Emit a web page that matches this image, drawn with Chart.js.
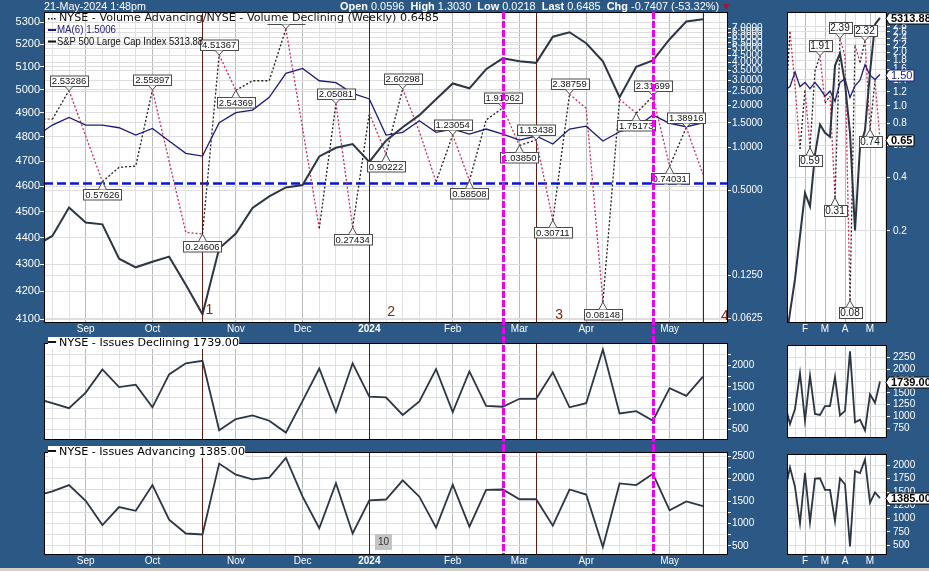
<!DOCTYPE html>
<html>
<head>
<meta charset="utf-8">
<title>NYSE Volume Advancing / Declining (Weekly)</title>
<script src="https://cdn.jsdelivr.net/npm/chart.js@4.4.1/dist/chart.umd.min.js"></script>
<style>
  html, body { margin: 0; padding: 0; }
  body { width: 929px; height: 571px; background: #2b5885; position: relative; overflow: hidden;
         font-family: "Liberation Sans", Arial, sans-serif; }
  canvas { position: absolute; }
  .hdr { position: absolute; top: 0; color: #fff; font-size: 11px; line-height: 13px; white-space: nowrap; transform-origin: 0 0; z-index: 5; }
  .tri { display: inline-block; width: 0; height: 0; border-left: 4px solid transparent; border-right: 4px solid transparent;
         border-top: 5px solid #a3163c; margin-left: 3px; vertical-align: 1px; }
  .leg { position: absolute; left: 48px; z-index: 5; color: #000; white-space: nowrap; background: #fff;
         font: 11px "DejaVu Sans", Verdana, sans-serif; line-height: 12px; height: 12px; transform-origin: 0 50%; }
  .leg i { display: inline-block; width: 8px; height: 2px; background: #111; vertical-align: 3px; margin-right: 3px; }
  #foot { position: absolute; left: 0; top: 568px; width: 929px; height: 3px; background: #d4d0c8; }
</style>
</head>
<body>
<canvas id="main" width="787" height="337" style="left:0;top:0"></canvas>
<canvas id="decl" width="787" height="110" style="left:0;top:336px"></canvas>
<canvas id="adv" width="787" height="126" style="left:0;top:445px"></canvas>
<canvas id="zmain" width="142" height="337" style="left:787px;top:0"></canvas>
<canvas id="zdecl" width="142" height="110" style="left:787px;top:336px"></canvas>
<canvas id="zadv" width="142" height="126" style="left:787px;top:445px"></canvas>
<div class="hdr" id="stamp">21-May-2024 1:48pm</div>
<div class="hdr" id="quote"><b>Open</b> 0.0596&nbsp; <b>High</b> 1.3030&nbsp; <b>Low</b> 0.0218&nbsp; <b>Last</b> 0.6485&nbsp; <b>Chg</b> -0.7407 (-53.32%)<span class="tri"></span></div>
<div class="leg" id="legDecl" style="top:337px"></div>
<div class="leg" id="legAdv" style="top:446px"></div>
<div id="foot"></div>
<script>
// weekly values, the first entry is the week just left of the visible window
const firstWeek = -1;
const spx = [4369.71, 4405.71, 4515.77, 4457.49, 4450.32, 4320.06, 4288.05, 4308.50, 4327.78, 4224.16,
             4117.37, 4358.34, 4415.24, 4514.02, 4559.34, 4594.63, 4604.37, 4719.19, 4754.63, 4769.83,
             4697.24, 4783.83, 4839.81, 4890.97, 4958.61, 5026.61, 5005.57, 5088.80, 5137.08, 5123.69,
             5117.09, 5234.18, 5254.35, 5204.34, 5123.41, 4967.23, 5099.96, 5127.79, 5222.68, 5303.27, 5313.88];
const ratio = [1.62, 1.587, 2.53286, 1.21, 0.57626, 0.727, 0.743, 2.55897, 0.80, 0.253,
               0.24606, 4.51367, 2.54369, 2.97, 2.97, 6.9, 1.37, 0.27, 2.05081, 0.27434,
               1.75, 0.90222, 2.60298, 1.3, 0.575, 1.23054, 0.58508, 1.57, 1.91062, 1.03850,
               1.13438, 0.30711, 2.38759, 1.9, 0.08148, 2.2, 1.75173, 2.31699, 0.74031, 1.38916, 0.6485];
const ma6 = [1.20, 1.446, 1.639, 1.446, 1.446, 1.384, 1.229, 1.37, 1.115, 0.913,
             0.874, 1.501, 1.767, 1.846, 2.27, 3.35, 3.63, 2.97, 2.88, 2.42,
             2.21, 1.229, 1.284, 1.55, 1.284, 1.355, 1.249, 1.355, 1.249, 1.133,
             1.21, 1.062, 1.355, 1.42, 1.115, 1.297, 1.393, 1.70, 1.487, 1.407, 1.5006];
const declining = [1230, 1118, 1000, 1365, 1909, 1496, 1551, 1021, 1791, 2054,
                   2110, 483, 746, 829, 705, 428, 1171, 1930, 911, 2054,
                   1269, 1254, 841, 1159, 1916, 911, 1861, 1055, 1034, 1220,
                   1220, 1840, 1021, 1118, 2378, 876, 931, 705, 1469, 1289, 1739];
const advancing = [1619, 1716, 1857, 1505, 966, 1366, 1282, 1857, 1084, 777,
                   756, 2335, 2088, 1983, 2025, 2461, 1598, 895, 1899, 777,
                   1514, 1535, 1962, 1598, 909, 1863, 931, 1752, 1758, 1541,
                   1541, 952, 1758, 1646, 474, 1893, 1857, 2109, 1295, 1493, 1385];

const monthWeeks = [2, 6, 11, 15, 19, 24, 28, 32, 37];
const monthLabels = ['Sep', 'Oct', 'Nov', 'Dec', '2024', 'Feb', 'Mar', 'Apr', 'May'];
const zoomMonthWeeks = [24, 28, 32, 37];
const zoomMonthLabels = ['F', 'M', 'A', 'M'];

const spxTicks = [4100, 4200, 4300, 4400, 4500, 4600, 4700, 4800, 4900, 5000, 5100, 5200, 5300];
const ratioTicks = [0.0625, 0.125, 0.5, 1, 1.5, 2, 2.5, 3, 3.5, 4, 4.5, 5, 5.5, 6, 6.5, 7];
const zoomRatioTicks = [0.2, 0.4, 0.6, 0.8, 1.0, 1.2, 1.4, 1.6, 1.8, 2.0, 2.2, 2.4, 2.6, 2.8];
const declTicks = [500, 750, 1000, 1250, 1500, 1750, 2000, 2250];
const advTicks = [500, 750, 1000, 1250, 1500, 1750, 2000, 2250, 2500];
const zoomDeclTicks = [750, 1000, 1250, 1500, 1750, 2000, 2250];
const zoomAdvTicks = [500, 750, 1000, 1250, 1500, 1750, 2000];

const labelWeeks = [1, 3, 6, 9, 10, 11, 14, 17, 18, 20, 21, 24, 25, 27, 28, 29, 30, 31, 33, 35, 36, 37, 38];
const hiddenLabelWeeks = [14];
const zoomLabelWeeks = [25, 27, 30, 31, 33, 36, 37];
const cycleWeeks = [9, 19, 29, 39];
const cycleNames = ['1', '2', '3', '4'];
const markerWeeks = [27, 36];
const refRatio = 0.566;

// styles
const SANS = '"Liberation Sans", Arial, sans-serif';
const VERD = '"DejaVu Sans", Verdana, sans-serif';
const SPX_COLOR = '#2c3542';
const MA_COLOR = '#1c1c78';
const RED = '#cf2d52';
const BROWN = '#62190f';
const MAGENTA = '#ee00ee';
const WEEK_GRID = '#e1e1e1';
const MONTH_GRID = '#b9b9b9';
const ROW_GRID = '#dedede';
const cycleText = { dx: [3, 18, 19, 18], y: [310, 312, 315, 316] };

Chart.defaults.font.family = SANS;

const pts = arr => arr.map((v, k) => ({ x: k + firstWeek, y: v }));
const at = (arr, w) => arr[w - firstWeek];
const last = arr => arr[arr.length - 1];

function line(ctx, x1, y1, x2, y2) {
  ctx.beginPath(); ctx.moveTo(x1, y1); ctx.lineTo(x2, y2); ctx.stroke();
}

function fitText(ctx, text, x, y, width, font, color) {
  ctx.save();
  ctx.font = font;
  const w = ctx.measureText(text).width;
  ctx.translate(x, y);
  if (width) ctx.scale(width / w, 1);
  ctx.fillStyle = color;
  ctx.textAlign = 'left';
  ctx.textBaseline = 'middle';
  ctx.fillText(text, 0, 0);
  ctx.restore();
}

function legendRow(ctx, y, mark, color, text, x, width, font) {
  ctx.save();
  ctx.fillStyle = color;
  if (mark === 'dots') {
    for (let k = 0; k < 3; k++) ctx.fillRect(48 + k * 3, y, 1.5, 1.5);
  } else {
    ctx.fillRect(48, y - 1, 8, 2);
  }
  ctx.restore();
  fitText(ctx, text, x, y + 0.5, width, font, color);
}

function weekAxis(o) {
  return {
    type: 'linear', position: 'bottom', min: o.min, max: o.max,
    afterBuildTicks: s => {
      const t = [];
      for (let v = Math.ceil(o.min); v <= o.max; v++) {
        if (v % o.every === 0 || o.at.includes(v)) t.push({ value: v });
      }
      s.ticks = t;
    },
    afterFit: s => { s.height = o.height; },
    border: { display: false },
    grid: { drawTicks: false, color: c => (c.tick && o.at.includes(c.tick.value)) ? MONTH_GRID : WEEK_GRID },
    ticks: {
      display: !!o.labels, autoSkip: false, maxRotation: 0, padding: 1, color: '#fff',
      font: c => ({ family: SANS, size: 10, weight: (c.tick && c.tick.label === '2024') ? 'bold' : 'normal' }),
      callback: v => { const k = o.at.indexOf(v); return (k < 0 || !o.labels) ? '' : o.labels[k]; }
    }
  };
}

function valueAxis(o) {
  return {
    type: o.log ? 'logarithmic' : 'linear', position: o.pos || 'right', display: o.display !== false,
    min: o.min, max: o.max,
    afterBuildTicks: s => { s.ticks = o.ticks.map(v => ({ value: v })); },
    afterFit: s => { s.width = o.width; },
    border: { display: false },
    grid: { color: ROW_GRID, tickLength: o.tick || 3, tickColor: '#ffffff' },
    ticks: { autoSkip: false, color: '#fff', padding: o.pad === undefined ? 1 : o.pad,
             font: { family: SANS, size: o.size || 10 }, callback: o.fmt }
  };
}

function callout(ctx, x, y, text, above, size) {
  ctx.font = size + 'px ' + SANS;
  const w = Math.round(ctx.measureText(text || '0.00000').width) + 4;
  const h = size + 1;
  const left = Math.round(x - w / 2) + 0.5;
  const top = (above ? Math.round(y) - 5 - h : Math.round(y) + 7) + 0.5;
  const edge = above ? top + h : top;
  ctx.lineWidth = 1;
  ctx.strokeStyle = '#4a4a4a';
  ctx.fillStyle = '#fff';
  if (text) { ctx.fillRect(left, top, w, h); ctx.strokeRect(left, top, w, h); }
  else line(ctx, left, edge, left + w, edge);
  ctx.beginPath(); ctx.moveTo(x - 4, edge); ctx.lineTo(x, y); ctx.lineTo(x + 4, edge); ctx.closePath(); ctx.fill();
  ctx.beginPath(); ctx.moveTo(x - 4, edge); ctx.lineTo(x, y); ctx.lineTo(x + 4, edge); ctx.stroke();
  if (text) {
    ctx.fillStyle = '#111'; ctx.textAlign = 'center'; ctx.textBaseline = 'middle';
    ctx.fillText(text, x, top + h / 2 + 0.5);
  }
}

function drawCallouts(chart, weeks, hidden, digits, size) {
  const { ctx, chartArea: a, scales } = chart;
  ctx.save();
  ctx.beginPath(); ctx.rect(a.left, a.top, a.width, a.height); ctx.clip();
  weeks.forEach(w => {
    const v = at(ratio, w);
    const above = v >= at(ratio, w - 1) && v >= at(ratio, w + 1 <= 39 ? w + 1 : w);
    const x = scales.x.getPixelForValue(w);
    const y = scales.ratio.getPixelForValue(v);
    callout(ctx, x, y, hidden.includes(w) ? null : v.toFixed(digits), above, size);
  });
  ctx.restore();
}

function tag(ctx, tipX, y, text, color, bold) {
  ctx.font = (bold ? 'bold ' : '') + '11px ' + SANS;
  const w = Math.ceil(ctx.measureText(text).width) + 3, h = 11;
  const x0 = tipX + 3;
  y = Math.round(y) + 0.5;
  ctx.beginPath();
  ctx.moveTo(tipX, y); ctx.lineTo(x0, y - h / 2); ctx.lineTo(x0 + w, y - h / 2);
  ctx.lineTo(x0 + w, y + h / 2); ctx.lineTo(x0, y + h / 2); ctx.closePath();
  ctx.fillStyle = '#fff'; ctx.fill();
  ctx.strokeStyle = color; ctx.lineWidth = 1; ctx.stroke();
  ctx.fillStyle = color; ctx.textAlign = 'left'; ctx.textBaseline = 'middle';
  ctx.fillText(text, x0 + 2, y + 0.5);
}

function drawCycles(chart, top, bottom) {
  const { ctx, scales } = chart;
  ctx.save();
  ctx.strokeStyle = BROWN; ctx.lineWidth = 1;
  cycleWeeks.forEach(w => {
    const x = Math.round(scales.x.getPixelForValue(w)) + 0.5;
    line(ctx, x, top, x, bottom);
  });
  ctx.restore();
}

function drawMarkers(chart, top, bottom) {
  const { ctx, scales } = chart;
  ctx.save();
  ctx.strokeStyle = MAGENTA; ctx.lineWidth = 3; ctx.setLineDash([7, 2]);
  markerWeeks.forEach(w => {
    const x = Math.round(scales.x.getPixelForValue(w)) + 0.5;
    line(ctx, x, top, x, bottom);
  });
  ctx.restore();
}

const panelBack = {
  id: 'panelBack',
  beforeDraw(chart) {
    const a = chart.chartArea;
    chart.ctx.fillStyle = '#fff';
    chart.ctx.fillRect(a.left, a.top, a.width, a.height);
  },
  afterDraw(chart) {
    const a = chart.chartArea, ctx = chart.ctx;
    ctx.save();
    ctx.strokeStyle = '#000'; ctx.lineWidth = 1; ctx.setLineDash([]);
    ctx.strokeRect(a.left + 0.5, a.top + 0.5, a.width - 1, a.height);
    ctx.restore();
  }
};

const baseOptions = (padding, scales) => ({
  responsive: false, animation: false, events: [],
  layout: { padding, autoPadding: false },
  elements: { point: { radius: 0 }, line: { tension: 0 } },
  plugins: { legend: { display: false }, tooltip: { enabled: false } },
  scales
});

const ratioSet = (axis) => ({
  data: pts(ratio), yAxisID: axis, borderColor: '#1e1e1e', borderWidth: 1.3, borderDash: [2, 2],
  segment: { borderColor: c => c.p1.parsed.y < c.p0.parsed.y ? RED : '#1e1e1e' }, clip: 0, order: 3
});

// ---- main weekly panel
new Chart(document.getElementById('main'), {
  type: 'line',
  data: { datasets: [
    { data: pts(spx), yAxisID: 'spx', borderColor: SPX_COLOR, borderWidth: 2, clip: 0, order: 1 },
    { data: pts(ma6), yAxisID: 'ratio', borderColor: MA_COLOR, borderWidth: 1.3, clip: 0, order: 2 },
    ratioSet('ratio')
  ]},
  options: baseOptions({ top: 12, left: 0, right: 0, bottom: 0 }, {
    x: weekAxis({ min: -0.5, max: 40.5, every: 1, at: monthWeeks, labels: monthLabels, height: 15 }),
    spx: valueAxis({ log: true, pos: 'left', min: 4090, max: 5347, ticks: spxTicks, width: 44, tick: 4, pad: 0, size: 11, fmt: v => String(v) }),
    ratio: valueAxis({ log: true, min: 0.0589, max: 9.08, ticks: ratioTicks, width: 59, fmt: v => v.toFixed(4) })
  }),
  plugins: [panelBack, {
    id: 'mainDecor',
    beforeDatasetsDraw(chart) {
      const { ctx, chartArea: a, scales } = chart;
      const y = Math.round(scales.ratio.getPixelForValue(refRatio)) + 0.5;
      ctx.save();
      ctx.strokeStyle = '#0a16d0'; ctx.lineWidth = 2.5; ctx.setLineDash([9, 4]);
      line(ctx, a.left, y, a.right, y);
      ctx.restore();
      drawCycles(chart, a.top, a.bottom);
    },
    afterDatasetsDraw(chart) {
      const { ctx, scales } = chart;
      drawCallouts(chart, labelWeeks, hiddenLabelWeeks, 5, 9.5);
      ctx.save();
      ctx.fillStyle = '#7b2817'; ctx.font = '14px ' + SANS; ctx.textAlign = 'left'; ctx.textBaseline = 'middle';
      cycleWeeks.forEach((w, k) => {
        ctx.fillText(cycleNames[k], scales.x.getPixelForValue(w) + cycleText.dx[k], cycleText.y[k]);
      });
      ctx.restore();
      legendRow(ctx, 18, 'dots', '#111', 'NYSE - Volume Advancing/NYSE - Volume Declining (Weekly) ' + last(ratio).toFixed(4), 59, 380, '11px ' + VERD);
      legendRow(ctx, 30, 'dash', MA_COLOR, 'MA(6) ' + last(ma6).toFixed(4), 57, 59, '10.5px ' + SANS);
      legendRow(ctx, 41.5, 'dash', '#111', 'S&P 500 Large Cap Index ' + last(spx).toFixed(2), 57, 146, '10.5px ' + SANS);
    },
    afterDraw(chart) { drawMarkers(chart, chart.chartArea.top, chart.height); }
  }]
});

// ---- issues declining
new Chart(document.getElementById('decl'), {
  type: 'line',
  data: { datasets: [{ data: pts(declining), yAxisID: 'y', borderColor: SPX_COLOR, borderWidth: 1.8, clip: 0 }] },
  options: baseOptions({ top: 0, left: 44, right: 0, bottom: 0 }, {
    x: weekAxis({ min: -0.5, max: 40.5, every: 1, at: monthWeeks, labels: null, height: 1 }),
    y: valueAxis({ min: 277, max: 2529, ticks: declTicks, width: 59, fmt: v => v % 500 === 0 ? String(v) : '' })
  }),
  plugins: [panelBack, {
    id: 'declDecor',
    beforeDatasetsDraw(chart) { drawCycles(chart, chart.chartArea.top, chart.chartArea.bottom); },
    afterDraw(chart) { drawMarkers(chart, 0, chart.height); }
  }]
});

// ---- issues advancing
new Chart(document.getElementById('adv'), {
  type: 'line',
  data: { datasets: [{ data: pts(advancing), yAxisID: 'y', borderColor: SPX_COLOR, borderWidth: 1.8, clip: 0 }] },
  options: baseOptions({ top: 1, left: 44, right: 0, bottom: 0 }, {
    x: weekAxis({ min: -0.5, max: 40.5, every: 1, at: monthWeeks, labels: monthLabels, height: 17 }),
    y: valueAxis({ min: 320, max: 2594, ticks: advTicks, width: 59, fmt: v => v % 500 === 0 ? String(v) : '' })
  }),
  plugins: [panelBack, {
    id: 'advDecor',
    beforeDatasetsDraw(chart) { drawCycles(chart, chart.chartArea.top, chart.chartArea.bottom); },
    afterDatasetsDraw(chart) {
      const { ctx, scales } = chart;
      const x = Math.round(scales.x.getPixelForValue(cycleWeeks[1])) + 6;
      ctx.fillStyle = '#c4c4c4'; ctx.fillRect(x, 89, 17, 16);
      ctx.fillStyle = '#333'; ctx.font = '10px ' + SANS; ctx.textAlign = 'center'; ctx.textBaseline = 'middle';
      ctx.fillText(String(cycleWeeks[1] - cycleWeeks[0]), x + 8.5, 97.5);
    },
    afterDraw(chart) { drawMarkers(chart, 0, chart.chartArea.bottom); }
  }]
});

// ---- zoomed panels on the right (last 20 weeks)
new Chart(document.getElementById('zmain'), {
  type: 'line',
  data: { datasets: [
    { data: pts(spx), yAxisID: 'spx', borderColor: SPX_COLOR, borderWidth: 2, clip: 0, order: 1 },
    { data: pts(ma6), yAxisID: 'ratio', borderColor: MA_COLOR, borderWidth: 1.3, clip: 0, order: 2 },
    ratioSet('ratio')
  ]},
  options: baseOptions({ top: 12, left: 0, right: 0, bottom: 0 }, {
    x: weekAxis({ min: 20.4, max: 40.4, every: 2, at: zoomMonthWeeks, labels: zoomMonthLabels, height: 15 }),
    spx: valueAxis({ log: true, pos: 'left', display: false, min: 4825, max: 5324, ticks: [], width: 0 }),
    ratio: valueAxis({ log: true, min: 0.0617, max: 3.36, ticks: zoomRatioTicks, width: 42, pad: 3, fmt: v => v.toFixed(1) })
  }),
  plugins: [panelBack, {
    id: 'zmainDecor',
    afterDatasetsDraw(chart) { drawCallouts(chart, zoomLabelWeeks, [], 2, 10); },
    afterDraw(chart) {
      const { ctx, chartArea: a, scales } = chart;
      tag(ctx, a.right - 1, scales.spx.getPixelForValue(last(spx)), last(spx).toFixed(2), '#000', true);
      tag(ctx, a.right - 1, scales.ratio.getPixelForValue(last(ma6)), last(ma6).toFixed(2), MA_COLOR, false);
      tag(ctx, a.right - 1, scales.ratio.getPixelForValue(last(ratio)), last(ratio).toFixed(2), '#000', true);
    }
  }]
});

new Chart(document.getElementById('zdecl'), {
  type: 'line',
  data: { datasets: [{ data: pts(declining), yAxisID: 'y', borderColor: SPX_COLOR, borderWidth: 1.8, clip: 0 }] },
  options: baseOptions({ top: 0, left: 0, right: 0, bottom: 0 }, {
    x: weekAxis({ min: 20.4, max: 40.4, every: 2, at: zoomMonthWeeks, labels: null, height: 1 }),
    y: valueAxis({ min: 566, max: 2512, ticks: zoomDeclTicks, width: 42, pad: 3, fmt: v => String(v) })
  }),
  plugins: [panelBack, {
    id: 'zdeclDecor',
    afterDraw(chart) {
      const { ctx, chartArea: a, scales } = chart;
      tag(ctx, a.right - 1, scales.y.getPixelForValue(last(declining)), last(declining).toFixed(2), '#000', true);
    }
  }]
});

new Chart(document.getElementById('zadv'), {
  type: 'line',
  data: { datasets: [{ data: pts(advancing), yAxisID: 'y', borderColor: SPX_COLOR, borderWidth: 1.8, clip: 0 }] },
  options: baseOptions({ top: 1, left: 0, right: 0, bottom: 0 }, {
    x: weekAxis({ min: 20.4, max: 40.4, every: 2, at: zoomMonthWeeks, labels: zoomMonthLabels, height: 17 }),
    y: valueAxis({ min: 332, max: 2216, ticks: zoomAdvTicks, width: 42, pad: 3, fmt: v => String(v) })
  }),
  plugins: [panelBack, {
    id: 'zadvDecor',
    afterDraw(chart) {
      const { ctx, chartArea: a, scales } = chart;
      tag(ctx, a.right - 1, scales.y.getPixelForValue(last(advancing)), last(advancing).toFixed(2), '#000', true);
    }
  }]
});

// lower-panel legends and header text, squeezed to the reference widths
function fitEl(id, left, width) {
  const el = document.getElementById(id);
  el.style.left = left + 'px';
  const w = el.getBoundingClientRect().width;
  el.style.transform = 'scaleX(' + (width / w) + ')';
}
function setLegend(id, text) {
  const el = document.getElementById(id);
  el.innerHTML = '<i></i>';
  el.appendChild(document.createTextNode(text));
}
setLegend('legDecl', 'NYSE - Issues Declining ' + last(declining).toFixed(2));
setLegend('legAdv', 'NYSE - Issues Advancing ' + last(advancing).toFixed(2));
fitEl('legDecl', 48, 191);
fitEl('legAdv', 48, 197);
fitEl('stamp', 44, 102);
fitEl('quote', 340, 390);
</script>
</body>
</html>
